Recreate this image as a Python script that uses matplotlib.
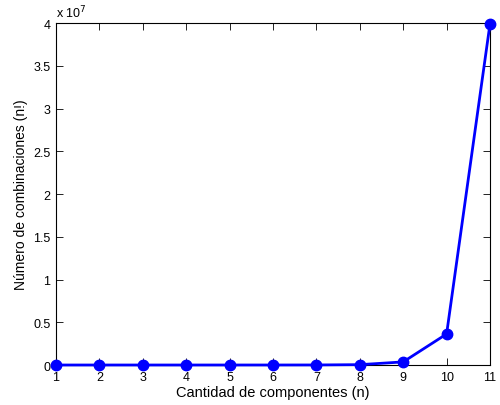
import matplotlib.pyplot as plt

n = [1, 2, 3, 4, 5, 6, 7, 8, 9, 10, 11]
combinaciones = [1, 2, 6, 24, 120, 720, 5040, 40320, 362880, 3628800, 39916800]

plt.rcParams['font.family'] = ['Liberation Sans', 'DejaVu Sans']
plt.rcParams['font.size'] = 9

fig = plt.figure(figsize=(5, 4.06), dpi=100)
ax = fig.add_axes([0.112, 0.0985, 0.868, 0.842])
ax.plot(n, combinaciones, '-o', color='#0000ff', linewidth=2, markersize=7.5,
        clip_on=False, zorder=3)

ax.set_xlim(1, 11)
ax.set_ylim(0, 4e7)
ax.set_xticks(n)
yt = [0, 0.5e7, 1e7, 1.5e7, 2e7, 2.5e7, 3e7, 3.5e7, 4e7]
ax.set_yticks(yt)
ax.set_yticklabels(['0', '0.5', '1', '1.5', '2', '2.5', '3', '3.5', '4'])
ax.text(0, 1.008, r'x 10$^7$', transform=ax.transAxes, ha='left', va='bottom')

ax.tick_params(direction='in', top=True, right=True, length=5, width=0.6, pad=4)
for s in ax.spines.values():
    s.set_linewidth(0.8)

ax.set_xlabel('Cantidad de componentes (n)', fontsize=10.5, labelpad=2)
ax.set_ylabel('Número de combinaciones (n!)', fontsize=10, labelpad=4)

fig.savefig('out.png', dpi=100)
